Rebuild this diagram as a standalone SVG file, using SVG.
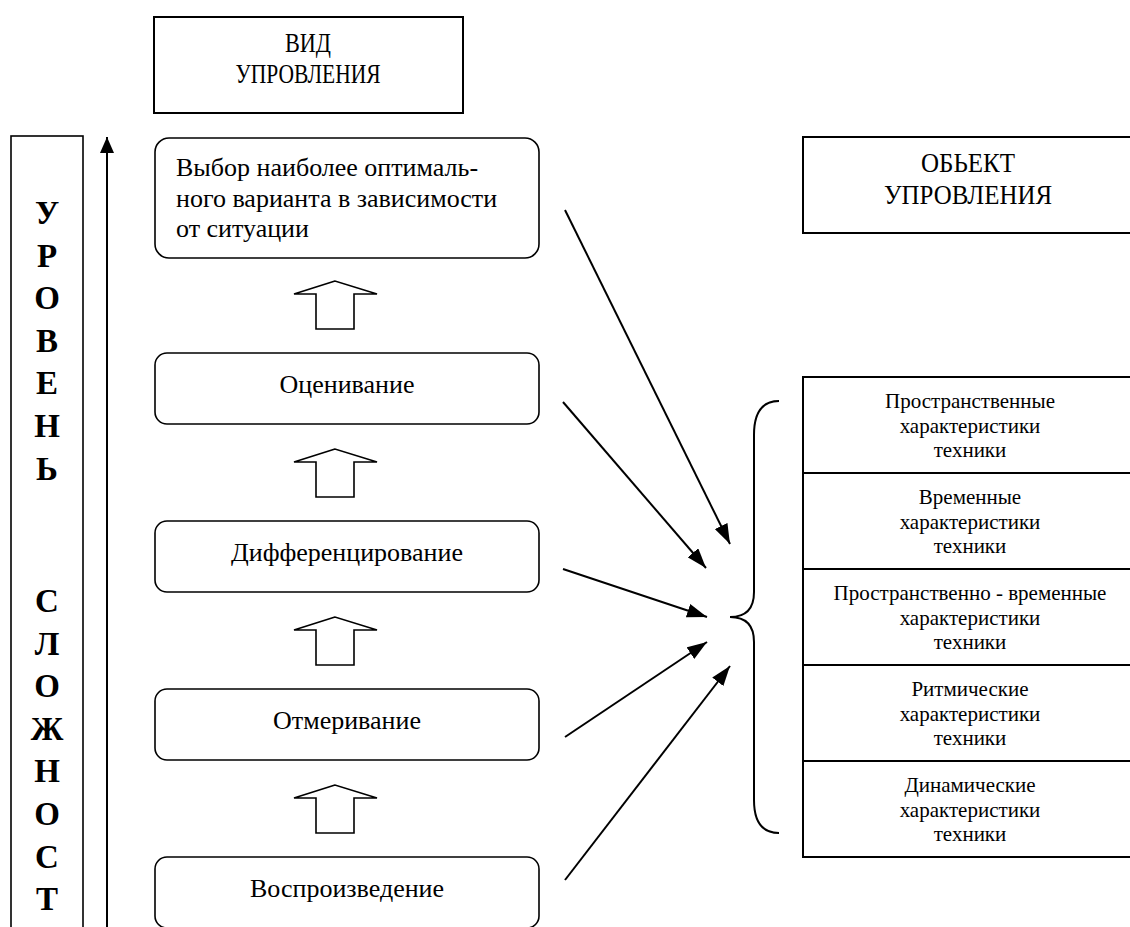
<svg xmlns="http://www.w3.org/2000/svg" width="1130" height="927" viewBox="0 0 1130 927">
<defs>
<style>
.box{fill:#fff;stroke:#000;stroke-width:2}
.rbox{fill:#fff;stroke:#000;stroke-width:1.6}
.t{font-family:"Liberation Serif","Times New Roman",serif;fill:#000}
.hd{font-size:27px;text-anchor:middle}
.bt{font-size:26px}
.ct{font-size:26px;text-anchor:middle}
.st{font-size:21px;text-anchor:middle}
.lt{font-size:33px;font-weight:bold;text-anchor:middle}
.con{stroke:#000;stroke-width:2;fill:none}
.blk{fill:#fff;stroke:#000;stroke-width:1.6;stroke-linejoin:miter}
</style>
<marker id="ah" viewBox="0 0 20 14" refX="20" refY="7" markerWidth="20" markerHeight="14" markerUnits="userSpaceOnUse" orient="auto">
<path d="M0,0 L20,7 L0,14 z" fill="#000"/>
</marker>
<marker id="ahv" viewBox="0 0 16 14" refX="16" refY="7" markerWidth="16" markerHeight="14" markerUnits="userSpaceOnUse" orient="auto">
<path d="M0,0 L16,7 L0,14 z" fill="#000"/>
</marker>
</defs>
<rect width="1130" height="927" fill="#fff"/>

<g id="vid">
<rect class="box" x="154" y="17" width="309" height="96"/>
<text class="t hd" x="308" y="52" textLength="46" lengthAdjust="spacingAndGlyphs">ВИД</text>
<text class="t hd" x="308" y="83" textLength="145" lengthAdjust="spacingAndGlyphs">УПРОВЛЕНИЯ</text>
</g>

<g id="obj">
<rect class="box" x="803" y="137" width="340" height="96"/>
<text class="t hd" x="968" y="172" textLength="94" lengthAdjust="spacingAndGlyphs">ОБЬЕКТ</text>
<text class="t hd" x="968" y="204" textLength="168" lengthAdjust="spacingAndGlyphs">УПРОВЛЕНИЯ</text>
</g>

<g id="level">
<rect x="11" y="136" width="72" height="800" fill="#fff" stroke="#000" stroke-width="1.6"/>
<text class="t lt" x="47" y="224">У</text>
<text class="t lt" x="47" y="267">Р</text>
<text class="t lt" x="47" y="309">О</text>
<text class="t lt" x="47" y="352">В</text>
<text class="t lt" x="47" y="394">Е</text>
<text class="t lt" x="47" y="437">Н</text>
<text class="t lt" x="47" y="480">Ь</text>
<text class="t lt" x="47" y="612">С</text>
<text class="t lt" x="47" y="655">Л</text>
<text class="t lt" x="47" y="697">О</text>
<text class="t lt" x="47" y="740">Ж</text>
<text class="t lt" x="47" y="782">Н</text>
<text class="t lt" x="47" y="825">О</text>
<text class="t lt" x="47" y="868">С</text>
<text class="t lt" x="47" y="910">Т</text>
</g>

<g id="n1">
<rect class="rbox" x="155" y="138" width="384" height="120" rx="14"/>
<text class="t bt" x="176" y="176">Выбор наиболее оптималь-</text>
<text class="t bt" x="176" y="207">ного варианта в зависимости</text>
<text class="t bt" x="176" y="237">от ситуации</text>
</g>
<g id="n2">
<rect class="rbox" x="155" y="353" width="384" height="71" rx="12"/>
<text class="t ct" x="347" y="393">Оценивание</text>
</g>
<g id="n3">
<rect class="rbox" x="155" y="521" width="384" height="71" rx="12"/>
<text class="t ct" x="347" y="561">Дифференцирование</text>
</g>
<g id="n4">
<rect class="rbox" x="155" y="689" width="384" height="71" rx="12"/>
<text class="t ct" x="347" y="729">Отмеривание</text>
</g>
<g id="n5">
<rect class="rbox" x="155" y="857" width="384" height="71" rx="12"/>
<text class="t ct" x="347" y="897">Воспроизведение</text>
</g>

<g id="chars">
<rect class="box" x="803" y="377" width="340" height="96"/>
<rect class="box" x="803" y="473" width="340" height="96"/>
<rect class="box" x="803" y="569" width="340" height="96"/>
<rect class="box" x="803" y="665" width="340" height="96"/>
<rect class="box" x="803" y="761" width="340" height="96"/>
<text class="t st" x="970" y="408">Пространственные</text>
<text class="t st" x="970" y="433">характеристики</text>
<text class="t st" x="970" y="457">техники</text>
<text class="t st" x="970" y="504">Временные</text>
<text class="t st" x="970" y="529">характеристики</text>
<text class="t st" x="970" y="553">техники</text>
<text class="t st" x="970" y="600">Пространственно - временные</text>
<text class="t st" x="970" y="625">характеристики</text>
<text class="t st" x="970" y="649">техники</text>
<text class="t st" x="970" y="696">Ритмические</text>
<text class="t st" x="970" y="721">характеристики</text>
<text class="t st" x="970" y="745">техники</text>
<text class="t st" x="970" y="792">Динамические</text>
<text class="t st" x="970" y="817">характеристики</text>
<text class="t st" x="970" y="841">техники</text>
</g>

<g id="connectors">
<line class="con" x1="107" y1="927" x2="107" y2="137" marker-end="url(#ahv)"/>
<polygon class="blk" points="335,281 294,294 316,294 316,329 354,329 354,294 377,294"/>
<polygon class="blk" points="335,449 294,462 316,462 316,497 354,497 354,462 377,462"/>
<polygon class="blk" points="335,617 294,630 316,630 316,665 354,665 354,630 377,630"/>
<polygon class="blk" points="335,785 294,798 316,798 316,833 354,833 354,798 377,798"/>
<line class="con" x1="565" y1="210" x2="730" y2="544" marker-end="url(#ah)"/>
<line class="con" x1="563" y1="402" x2="706" y2="568" marker-end="url(#ah)"/>
<line class="con" x1="563" y1="569" x2="707" y2="617" marker-end="url(#ah)"/>
<line class="con" x1="565" y1="737" x2="707" y2="642" marker-end="url(#ah)"/>
<line class="con" x1="565" y1="880" x2="730" y2="666" marker-end="url(#ah)"/>
<path class="con" stroke-width="1.6" d="M779,401 C762,401 754,412 754,435 L754,592 C754,608 746,617 730,617 C746,617 754,626 754,642 L754,800 C754,822 762,833 779,833"/>
</g>
</svg>
